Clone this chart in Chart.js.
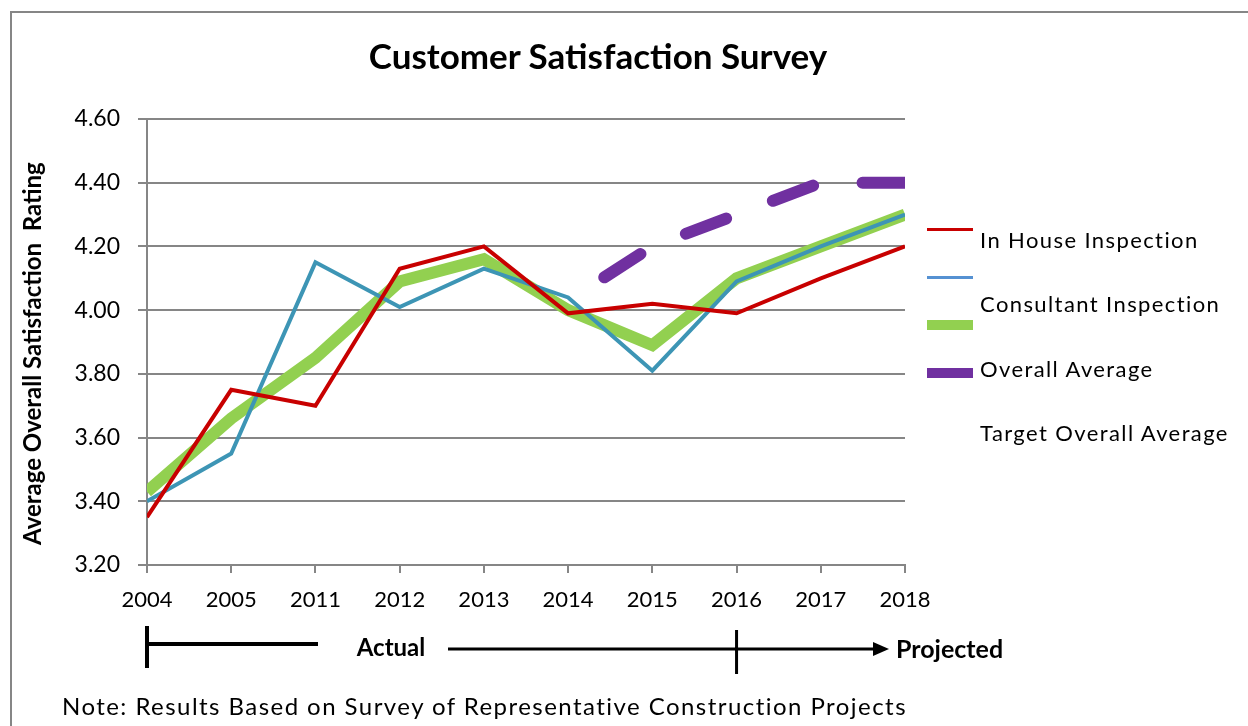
<!DOCTYPE html>
<html>
<head>
<meta charset="utf-8">
<title>Customer Satisfaction Survey</title>
<script src="https://cdn.jsdelivr.net/npm/chart.js@4.4.1/dist/chart.umd.min.js"></script>
<style>
    html, body { margin: 0; padding: 0; background: #fff; }
    #wrap { position: relative; width: 1248px; height: 726px; overflow: hidden; font-family: Lato, "Noto Sans", sans-serif; color: #000; }
    #frame { position: absolute; left: 10px; top: 11px; width: 1400px; height: 900px; border-left: 2px solid #868686; border-top: 2px solid #868686; }
    #title { position: absolute; left: 0; width: 1196px; top: 34px; text-align: center; font-weight: 700; font-size: 35px; line-height: 42px; }
    #note { position: absolute; left: 62px; top: 691px; font-size: 24px; line-height: 30px; letter-spacing: 1.45px; white-space: nowrap; }
    #chart { position: absolute; left: 0; top: 0; }
    .swatch { position: absolute; left: 927px; width: 46px; }
    .lbl { position: absolute; left: 980px; font-size: 22px; line-height: 28px; letter-spacing: 1.4px; white-space: nowrap; }
</style>
</head>
<body>
<div id="wrap">
    <div id="frame"></div>
    <canvas id="chart" width="1248" height="726"></canvas>
    <div id="title">Customer Satisfaction Survey</div>
    <div id="legend"></div>
    <div id="note">Note: Results Based on Survey of Representative Construction Projects</div>
</div>
<script>
// datos
const years = ['2004', '2005', '2011', '2012', '2013', '2014', '2015', '2016', '2017', '2018'];
const inHouse = [3.35, 3.75, 3.70, 4.13, 4.20, 3.99, 4.02, 3.99, 4.10, 4.20];
const consultant = [3.40, 3.55, 4.15, 4.01, 4.13, 4.04, 3.81, 4.09, 4.20, 4.30];
const overall = [3.43, 3.66, 3.85, 4.09, 4.16, 4.00, 3.89, 4.10, 4.20, 4.30];
const target = [null, null, null, null, null, 4.03, 4.20, 4.30, 4.40, 4.40];
const legendLabels = ['In House Inspection', 'Consultant Inspection', 'Overall Average', 'Target Overall Average'];
const yTicks = [3.2, 3.4, 3.6, 3.8, 4.0, 4.2, 4.4, 4.6];

const FONT = 'Lato, "Noto Sans", sans-serif';
const GRID = '#868686';

// flechas Actual / Projected bajo el eje
const timeline = {
    id: 'timeline',
    afterDraw(chart) {
        const { ctx } = chart;
        const x = chart.scales.x;
        const x0 = x.getPixelForValue(0);
        const x1 = x.getPixelForValue(years.indexOf('2016'));
        ctx.save();
        ctx.strokeStyle = '#000';
        ctx.fillStyle = '#000';
        ctx.lineWidth = 4;
        ctx.beginPath();
        ctx.moveTo(x0, 626); ctx.lineTo(x0, 668);
        ctx.moveTo(x0, 644); ctx.lineTo(318, 644);
        ctx.stroke();
        ctx.lineWidth = 3;
        ctx.beginPath();
        ctx.moveTo(448, 649); ctx.lineTo(876, 649);
        ctx.moveTo(x1, 630); ctx.lineTo(x1, 674);
        ctx.stroke();
        ctx.beginPath();
        ctx.moveTo(889, 649); ctx.lineTo(873, 642); ctx.lineTo(873, 656);
        ctx.closePath();
        ctx.fill();
        ctx.font = 'bold 24px ' + FONT;
        ctx.textBaseline = 'middle';
        ctx.textAlign = 'center';
        ctx.fillText('Actual', 391, 648);
        ctx.font = 'bold 25px ' + FONT;
        ctx.textAlign = 'left';
        ctx.fillText('Projected', 896, 650);
        ctx.restore();
    }
};

const datasets = [
    { label: legendLabels[0], data: inHouse, borderColor: '#c80000', borderWidth: 4, legendColor: '#c80000' },
    { label: legendLabels[1], data: consultant, borderColor: '#3d95b5', borderWidth: 4, legendColor: '#5591d2' },
    { label: legendLabels[2], data: overall, borderColor: '#92d050', borderWidth: 12, legendColor: '#92d050' },
    { label: legendLabels[3], data: target, borderColor: '#7030a0', borderWidth: 12, legendColor: '#7030a0',
      borderDash: [43, 50], borderDashOffset: 50, borderCapStyle: 'round' }
];
datasets.forEach(d => { d.clip = 0; d.pointRadius = 0; d.tension = 0; d.fill = false; });

const chart = new Chart(document.getElementById('chart'), {
    type: 'line',
    data: { labels: years, datasets: datasets },
    options: {
        responsive: false,
        animation: false,
        layout: { padding: { top: 119, left: 0, right: 343, bottom: 111 } },
        plugins: { legend: { display: false }, title: { display: false }, tooltip: { enabled: false } },
        scales: {
            x: {
                offset: false,
                grid: { drawOnChartArea: false, color: GRID, lineWidth: 2, tickLength: 8 },
                border: { color: GRID, width: 2 },
                ticks: { color: '#000', font: { family: FONT, size: 22 }, padding: 14, maxRotation: 0, autoSkip: false },
                afterFit(s) { s.height = 50; }
            },
            y: {
                min: yTicks[0],
                max: yTicks[yTicks.length - 1],
                afterBuildTicks(s) { s.ticks = yTicks.map(v => ({ value: v })); },
                grid: { color: GRID, lineWidth: 2, tickLength: 9 },
                border: { display: true, color: GRID, width: 2 },
                ticks: { color: '#000', font: { family: FONT, size: 23 }, padding: 18, callback: v => Number(v).toFixed(2) },
                title: {
                    display: true,
                    // espacios al final para bajar el texto como en el original
                    text: 'Average Overall Satisfaction  Rating    ',
                    color: '#000',
                    font: { family: FONT, size: 24, weight: 'bold' },
                    padding: { top: 19, bottom: 0 }
                },
                afterFit(s) { s.width = 147; }
            }
        }
    },
    plugins: [timeline]
});

// leyenda: las lineas y los textos no estan alineados en el original
const legend = document.getElementById('legend');
chart.data.datasets.forEach((d, i) => {
    const sw = document.createElement('div');
    const h = Math.min(d.borderWidth, 10) - (i < 2 ? 1 : 0);
    sw.className = 'swatch';
    sw.style.height = h + 'px';
    sw.style.top = (229 + 48 * i - h / 2) + 'px';
    sw.style.background = d.legendColor;
    legend.appendChild(sw);
});
legendLabels.forEach((t, i) => {
    const el = document.createElement('div');
    el.className = 'lbl';
    el.textContent = t;
    el.style.top = (240 + 64.3 * i - 14) + 'px';
    legend.appendChild(el);
});
</script>
</body>
</html>
